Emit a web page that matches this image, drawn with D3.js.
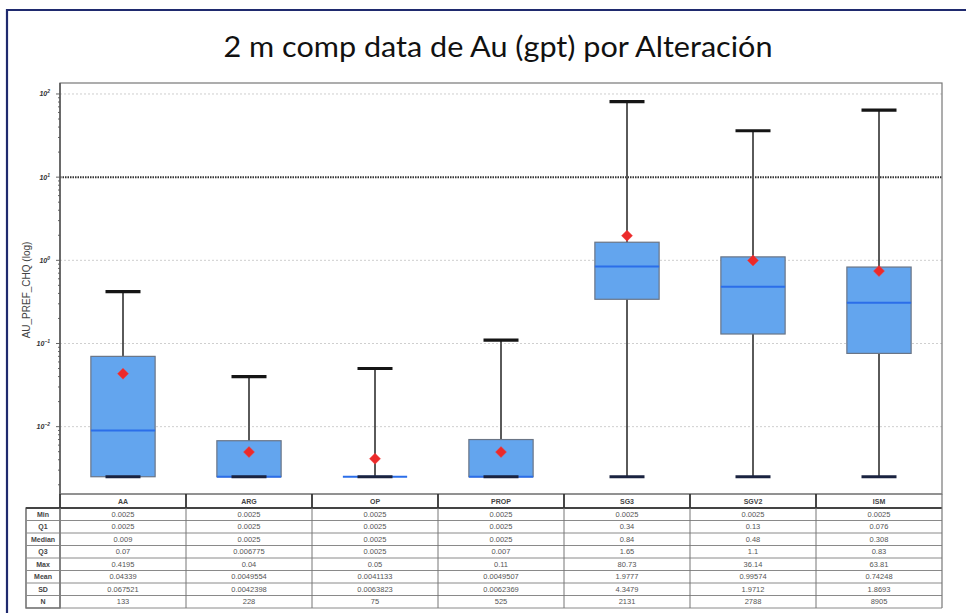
<!DOCTYPE html>
<html><head><meta charset="utf-8">
<script src="https://cdn.jsdelivr.net/npm/d3@7"></script>
<style>body{margin:0;background:#fff}svg{display:block}</style>
</head><body><svg id="c" width="966" height="613"></svg>
<script>
const categories = ["AA","ARG","OP","PROP","SG3","SGV2","ISM"];
const minV  = [0.0025,0.0025,0.0025,0.0025,0.0025,0.0025,0.0025];
const q1V   = [0.0025,0.0025,0.0025,0.0025,0.34,0.13,0.076];
const medV  = [0.009,0.0025,0.0025,0.0025,0.84,0.48,0.308];
const q3V   = [0.07,0.006775,0.0025,0.007,1.65,1.1,0.83];
const maxV  = [0.4195,0.04,0.05,0.11,80.73,36.14,63.81];
const meanV = [0.04339,0.0049554,0.0041133,0.0049507,1.9777,0.99574,0.74248];
const sdV   = [0.067521,0.0042398,0.0063823,0.0062369,4.3479,1.9712,1.8693];
const nV    = [133,228,75,525,2131,2788,8905];
const rowLabels = ["Min","Q1","Median","Q3","Max","Mean","SD","N"];
const yTickExp = [2,1,0,-1,-2];
const thresholdValue = 10;
const titleText = "2 m comp data de Au (gpt) por Alteración";
const axisTitle = "AU_PREF_CHQ (log)";

const svg = d3.select("#c");
const L = 60, R = 942, T = 83, B = 494;
const x = d3.scaleBand().domain(categories).range([L, R]).paddingInner(0).paddingOuter(0);
const y = d3.scaleLog().domain([0.00155, 135.5]).range([B, T]);

// outer frame
svg.append("path").attr("d", `M7,${613+5} L7,10 L${966+5},10`)
  .attr("fill","none").attr("stroke","#1f2a6e").attr("stroke-width",2.2);

// title
svg.append("text").attr("x", 498).attr("y", 57).attr("text-anchor","middle")
  .attr("font-family","Lato, 'Open Sans', sans-serif").attr("font-size", 28)
  .attr("textLength", 549).attr("lengthAdjust","spacingAndGlyphs")
  .attr("fill","#111").text(titleText);

// gridlines
const g = svg.append("g");
yTickExp.forEach(e => {
  const v = Math.pow(10, e);
  const isT = v === thresholdValue;
  g.append("line").attr("x1", L).attr("x2", R).attr("y1", y(v)).attr("y2", y(v))
    .attr("stroke", isT ? "#333" : "#cfcfcf")
    .attr("stroke-width", isT ? 2 : 1)
    .attr("stroke-dasharray", isT ? "1.5,1" : "2,2");
});

// frame of plot
svg.append("rect").attr("x", L).attr("y", T).attr("width", R - L).attr("height", B - T)
  .attr("fill","none").attr("stroke","#777").attr("stroke-width",1.2);

// y axis ticks (major + minor)
const ax = svg.append("g");
const [d0, d1] = y.domain();
for (let e = -3; e <= 2; e++) {
  for (let m = 1; m <= 9; m++) {
    const v = m * Math.pow(10, e);
    if (v < d0 || v > d1) continue;
    ax.append("line").attr("x1", L - (m === 1 ? 4 : 2)).attr("x2", L)
      .attr("y1", y(v)).attr("y2", y(v)).attr("stroke","#666").attr("stroke-width",1);
  }
}
svg.append("line").attr("x1", L).attr("x2", L).attr("y1", T).attr("y2", B).attr("stroke","#555").attr("stroke-width",1.5);
yTickExp.forEach(e => {
  const t = ax.append("text").attr("x", 50).attr("y", y(Math.pow(10, e)) + 2.5)
    .attr("text-anchor","end").attr("font-family","Liberation Sans, Arial, sans-serif")
    .attr("font-size", 7).attr("font-weight","bold").attr("font-style","italic").attr("fill","#333");
  t.append("tspan").text("10");
  t.append("tspan").attr("dy", -3).attr("font-size", 5).text(String(e).replace("-", "\u2212"));
});
svg.append("text").attr("transform", `translate(30,290) rotate(-90)`)
  .attr("text-anchor","middle").attr("font-family","Liberation Sans, Arial, sans-serif")
  .attr("font-size", 10).attr("fill","#444").text(axisTitle);

// boxes
const bw = x.bandwidth();
const boxW = bw * 0.51, capW = 35;
categories.forEach((c, i) => {
  const cx = x(c) + bw / 2;
  const gg = svg.append("g");
  gg.append("line").attr("x1", cx).attr("x2", cx).attr("y1", y(maxV[i])).attr("y2", y(minV[i]))
    .attr("stroke","#5a5a5a").attr("stroke-width", 2);
  const top = y(q3V[i]), bot = y(q1V[i]);
  if (bot - top > 0.5) {
    gg.append("rect").attr("x", cx - boxW / 2).attr("y", top).attr("width", boxW).attr("height", bot - top)
      .attr("fill","#63a5ee").attr("stroke","#6a7586").attr("stroke-width",1.2);
  }
  gg.append("line").attr("x1", cx - boxW / 2).attr("x2", cx + boxW / 2)
    .attr("y1", y(medV[i])).attr("y2", y(medV[i])).attr("stroke","#2b6ee9").attr("stroke-width", 2);
  [maxV[i], minV[i]].forEach((v, k) => {
    gg.append("line").attr("x1", cx - capW / 2).attr("x2", cx + capW / 2)
      .attr("y1", y(v)).attr("y2", y(v)).attr("stroke", k === 0 ? "#151515" : "#1a2340").attr("stroke-width", 3.2);
  });
  const my = y(meanV[i]), s = 5.5;
  gg.append("path").attr("d", `M${cx},${my - s} L${cx + s},${my} L${cx},${my + s} L${cx - s},${my} Z`)
    .attr("fill","#ec2a2a").attr("stroke","#f04545").attr("stroke-width",0.5);
});

// table
const rowH = 12.5, tTop = 508, hTop = 494, labL = 26;
const rows = [minV, q1V, medV, q3V, maxV, meanV, sdV, nV];
const tb = svg.append("g").attr("font-family","Liberation Sans, Arial, sans-serif");
tb.append("line").attr("x1", L).attr("x2", R).attr("y1", hTop).attr("y2", hTop).attr("stroke","#777");
categories.forEach((c, i) => {
  tb.append("text").attr("x", x(c) + bw / 2).attr("y", hTop + 10).attr("text-anchor","middle")
    .attr("font-size", 7).attr("font-weight","bold").attr("fill","#444").text(c);
});
tb.append("rect").attr("x", labL).attr("y", tTop).attr("width", L - labL).attr("height", rowH * rows.length)
  .attr("fill","none").attr("stroke","#555").attr("stroke-width",1.3);
for (let r = 0; r <= rows.length; r++) {
  tb.append("line").attr("x1", labL).attr("x2", R)
    .attr("y1", tTop + r * rowH).attr("y2", tTop + r * rowH)
    .attr("stroke", r === 0 ? "#444" : "#8a8a8a").attr("stroke-width", r === 0 ? 1.8 : 1);
}
categories.forEach((c, i) => {
  const xs = x(c);
  tb.append("line").attr("x1", xs).attr("x2", xs).attr("y1", hTop).attr("y2", tTop)
    .attr("stroke","#333").attr("stroke-width",1.8);
  tb.append("line").attr("x1", xs).attr("x2", xs).attr("y1", tTop).attr("y2", tTop + rowH * rows.length)
    .attr("stroke","#777").attr("stroke-width",1);
});
tb.append("line").attr("x1", R).attr("x2", R).attr("y1", hTop).attr("y2", tTop + rowH * rows.length)
  .attr("stroke","#777").attr("stroke-width",1.2);
rows.forEach((arr, r) => {
  const cy = tTop + r * rowH + rowH / 2 + 2.5;
  tb.append("text").attr("x", (labL + L) / 2).attr("y", cy).attr("text-anchor","middle")
    .attr("font-size", 7).attr("font-weight","bold").attr("fill","#444").text(rowLabels[r]);
  arr.forEach((v, i) => {
    tb.append("text").attr("x", x(categories[i]) + bw / 2).attr("y", cy).attr("text-anchor","middle")
      .attr("font-size", 7.5).attr("fill","#555").text(String(v));
  });
});
</script></body></html>
